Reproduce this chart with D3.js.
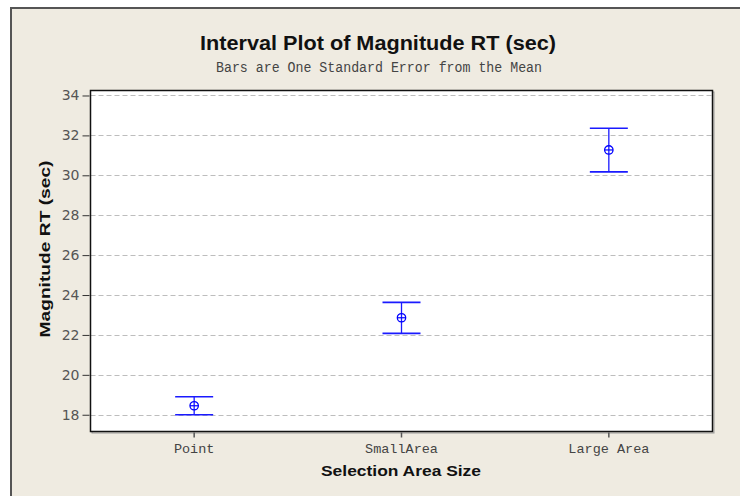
<!DOCTYPE html>
<html lang="en">
<head>
<meta charset="utf-8">
<style>
  body { margin: 0; background: #fff; overflow: hidden; }
  svg { display: block; }
</style>
</head>
<body>
<script src="https://d3js.org/d3.v7.min.js"></script>
<svg id="chart" width="740" height="496"></svg>
<script>
// data
var categories = ["Point", "SmallArea", "Large Area"];
var means = [18.45, 22.86, 31.27];
var lower = [18.0, 22.08, 30.17];
var upper = [18.9, 23.63, 32.36];
var yTicks = [18, 20, 22, 24, 26, 28, 30, 32, 34];

var svg = d3.select("#chart");

// beige frame (runs off the right and bottom edges like the original)
svg.append("rect").attr("x", 11).attr("y", 8).attr("width", 900).attr("height", 600)
    .style("fill", "#efebe1").style("stroke", "#555").style("stroke-width", 2);

var pLeft = 90.5, pRight = 712.5, pTop = 90.5, pBottom = 431.5;

var x = d3.scaleBand().domain(categories).range([pLeft, pRight]).padding(0);
var y = d3.scaleLinear().domain([17.16, 34.25]).range([pBottom, pTop]);

// plot box + little shadow
svg.append("rect").attr("x", pLeft + 1.5).attr("y", pTop + 1.5)
    .attr("width", pRight - pLeft).attr("height", pBottom - pTop)
    .style("fill", "none").style("stroke", "#999").style("stroke-width", 1);
svg.append("rect").attr("x", pLeft).attr("y", pTop)
    .attr("width", pRight - pLeft).attr("height", pBottom - pTop)
    .style("fill", "#fff").style("stroke", "none");

// dashed grid
svg.append("g").selectAll("line").data(yTicks).enter().append("line")
    .attr("x1", pLeft).attr("x2", pRight)
    .attr("y1", function (d) { return Math.round(y(d)) + 0.5; })
    .attr("y2", function (d) { return Math.round(y(d)) + 0.5; })
    .style("stroke", "#bdbdbd").style("stroke-dasharray", "5,3").style("stroke-width", 1);

svg.append("rect").attr("x", pLeft).attr("y", pTop)
    .attr("width", pRight - pLeft).attr("height", pBottom - pTop)
    .style("fill", "none").style("stroke", "#111").style("stroke-width", 1.5);

// y axis
var yAxis = d3.axisLeft(y).tickValues(yTicks).tickSize(7).tickPadding(3);
var gy = svg.append("g").attr("transform", "translate(" + (pLeft - 1) + ",0)").call(yAxis);
gy.select(".domain").remove();
gy.selectAll(".tick line").style("stroke", "#333");
gy.selectAll(".tick text").style("font-family", "'DejaVu Sans', sans-serif")
    .style("font-size", "14px").style("fill", "#555");

// x axis
var xAxis = d3.axisBottom(x).tickSize(5).tickPadding(6);
var gx = svg.append("g").attr("transform", "translate(0," + (pBottom + 1) + ")").call(xAxis);
gx.select(".domain").remove();
gx.selectAll(".tick line").style("stroke", "#555").style("stroke-width", 1.5);
gx.selectAll(".tick text").style("font-family", "'Liberation Mono', monospace")
    .style("font-size", "13.5px").style("fill", "#444");

// error bars
var capW = 38;
var bars = svg.append("g").selectAll("g").data(categories).enter().append("g")
    .attr("transform", function (d) { return "translate(" + (x(d) + x.bandwidth() / 2) + ",0)"; });
bars.append("line").attr("x1", 0).attr("x2", 0)
    .attr("y1", function (d, i) { return y(upper[i]); })
    .attr("y2", function (d, i) { return y(lower[i]); })
    .style("stroke", "#1a1aff").style("stroke-width", 1.3);
bars.append("line").attr("x1", -capW / 2).attr("x2", capW / 2)
    .attr("y1", function (d, i) { return y(upper[i]); })
    .attr("y2", function (d, i) { return y(upper[i]); })
    .style("stroke", "#1a1aff").style("stroke-width", 1.6);
bars.append("line").attr("x1", -capW / 2).attr("x2", capW / 2)
    .attr("y1", function (d, i) { return y(lower[i]); })
    .attr("y2", function (d, i) { return y(lower[i]); })
    .style("stroke", "#1a1aff").style("stroke-width", 1.6);
bars.append("circle").attr("cx", 0)
    .attr("cy", function (d, i) { return y(means[i]); })
    .attr("r", 4.2)
    .style("fill", "none").style("stroke", "#0000ff").style("stroke-width", 1.3);
bars.append("line").attr("x1", -4.2).attr("x2", 4.2)
    .attr("y1", function (d, i) { return y(means[i]); })
    .attr("y2", function (d, i) { return y(means[i]); })
    .style("stroke", "#0000ff").style("stroke-width", 1.2);

// titles
svg.append("text").attr("x", 378).attr("y", 50).attr("text-anchor", "middle")
    .attr("textLength", 356).attr("lengthAdjust", "spacingAndGlyphs")
    .style("font-family", "'Liberation Sans', Arial, sans-serif").style("font-weight", "bold")
    .style("font-size", "20px").style("fill", "#111")
    .text("Interval Plot of Magnitude RT (sec)");
svg.append("text").attr("x", 379).attr("y", 72).attr("text-anchor", "middle")
    .attr("textLength", 326).attr("lengthAdjust", "spacingAndGlyphs")
    .style("font-family", "'Liberation Mono', monospace")
    .style("font-size", "14px").style("fill", "#444")
    .text("Bars are One Standard Error from the Mean");
svg.append("text").attr("x", 401).attr("y", 476).attr("text-anchor", "middle")
    .attr("textLength", 160).attr("lengthAdjust", "spacingAndGlyphs")
    .style("font-family", "'Liberation Sans', Arial, sans-serif").style("font-weight", "bold")
    .style("font-size", "15px").style("fill", "#111")
    .text("Selection Area Size");
svg.append("text").attr("transform", "translate(50,249) rotate(-90)").attr("text-anchor", "middle")
    .attr("textLength", 177).attr("lengthAdjust", "spacingAndGlyphs")
    .style("font-family", "'Liberation Sans', Arial, sans-serif").style("font-weight", "bold")
    .style("font-size", "15px").style("fill", "#111")
    .text("Magnitude RT (sec)");
</script>
</body>
</html>
